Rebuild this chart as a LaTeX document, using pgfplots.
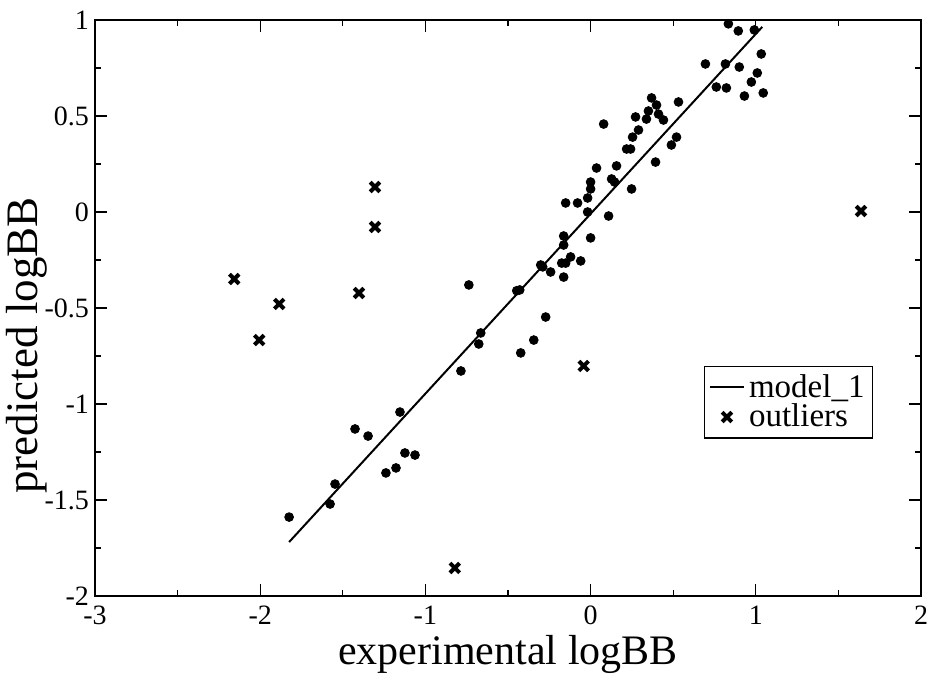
\documentclass[border=0pt]{standalone}
\usepackage{fontspec}
\setmainfont{Liberation Serif}
\usepackage{pgfplots}
\pgfplotsset{compat=1.18}
\begin{document}
\begin{tikzpicture}
\begin{axis}[
  scale only axis,
  width=413pt, height=288pt,
  xmin=-3, xmax=2, ymin=-2, ymax=1,
  xtick={-3,-2,-1,0,1,2},
  ytick={-2,-1.5,-1,-0.5,0,0.5,1},
  minor x tick num=1,
  minor y tick num=1,
  tick align=inside,
  major tick length=6pt,
  minor tick length=3pt,
  every tick/.style={black, line width=0.6pt},
  axis line style={line width=1pt},
  /pgf/number format/assume math mode=true,
  ticklabel style={font=\fontsize{14}{16}\selectfont},
  yticklabel style={/pgf/number format/fixed, xshift=0.5pt},
  xticklabel style={yshift=-1.5pt},
  xlabel={experimental logBB},
  ylabel={predicted logBB},
  xlabel style={font=\fontsize{21}{25}\selectfont, at={(axis description cs:0.5,-0.102)}, anchor=center},
  ylabel style={font=\fontsize{22.5}{26}\selectfont, at={(axis description cs:-0.083,0.435)}, anchor=center},
  legend style={at={(axis description cs:0.942,0.40)}, anchor=north east,
    font=\fontsize{16.5}{19}\selectfont, draw=black, line width=0.6pt,
    inner sep=2pt, row sep=-2pt},
  legend cell align=left,
  clip=false,
]
\addplot[black, line width=1pt] coordinates {(-1.825,-1.719) (1.039,0.964)};
\addlegendentry{model\_1}
\addplot[only marks, mark=*, mark size=2.2pt, black, forget plot] coordinates {
(0.834,0.98) (0.894,0.943) (0.991,0.948) (1.033,0.823) (0.695,0.771)
(0.816,0.771) (0.900,0.755) (1.009,0.724) (0.973,0.677) (0.761,0.651)
(0.822,0.646) (0.931,0.604) (1.045,0.620) (0.532,0.573) (0.369,0.594)
(0.399,0.557) (0.350,0.526) (0.079,0.458) (0.272,0.495) (0.338,0.484)
(0.411,0.51) (0.441,0.479) (0.29,0.427) (0.254,0.39) (0.52,0.39)
(0.489,0.349) (0.218,0.328) (0.242,0.328) (0.393,0.26) (0.157,0.24)
(0.036,0.229) (0.0,0.156) (0.0,0.12) (0.127,0.172) (0.145,0.156)
(0.248,0.12) (-0.018,0.073) (-0.151,0.047) (-0.079,0.047) (-0.018,0.0)
(0.109,-0.021) (-0.163,-0.125) (-0.163,-0.172) (0.0,-0.135) (-0.121,-0.234)
(-0.175,-0.266) (-0.151,-0.266) (-0.06,-0.255) (-0.302,-0.276) (-0.29,-0.286)
(-0.242,-0.3125) (-0.163,-0.339) (-0.737,-0.38) (-0.447,-0.41) (-0.429,-0.406)
(-0.272,-0.547) (-0.344,-0.667) (-0.423,-0.734) (-0.665,-0.63) (-0.677,-0.6875)
(-0.785,-0.828) (-1.154,-1.042) (-1.426,-1.13) (-1.347,-1.167) (-1.124,-1.255)
(-1.063,-1.266) (-1.178,-1.333) (-1.239,-1.359) (-1.547,-1.417) (-1.577,-1.521)
(-1.825,-1.589)
};
\addplot[only marks, mark=x, black, mark size=3.4pt, mark options={line width=2pt}] coordinates {
(-1.305,0.130) (-1.305,-0.078) (-2.157,-0.349) (-1.885,-0.479) (-1.402,-0.422)
(-2.006,-0.667) (-0.042,-0.802) (-0.822,-1.854) (1.637,0.005)
};
\addlegendentry{outliers}
\end{axis}
\pgfresetboundingbox
\path (current axis.south west) ++(-47.5pt,-40.5pt) coordinate (bl);
\path (current axis.north east) ++(3.5pt,10pt) coordinate (tr);
\useasboundingbox (bl) rectangle (tr);
\end{tikzpicture}
\end{document}
